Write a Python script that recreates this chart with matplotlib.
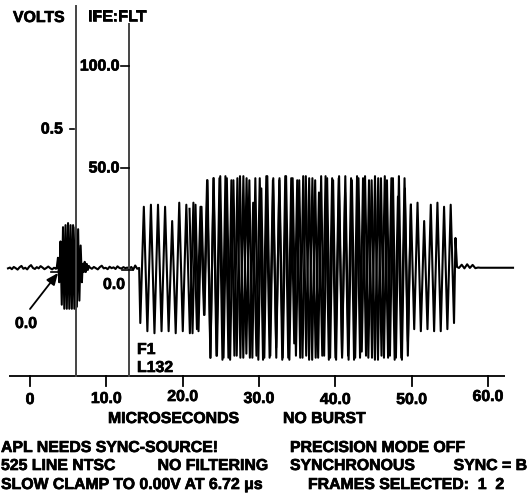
import numpy as np
import matplotlib
matplotlib.use('Agg')
import matplotlib.pyplot as plt
import matplotlib.patheffects as pe

plt.rcParams['font.family'] = ['Liberation Sans', 'DejaVu Sans']
plt.rcParams['font.weight'] = 'bold'

# ---------------- data ----------------
x_ticks = [0, 10, 20, 30, 40, 50, 60]
x_tick_labels = ['0', '10.0', '20.0', '30.0', '40.0', '50.0', '60.0']
ife_ticks = [100.0, 50.0]
ife_tick_labels = ['100.0', '50.0']
volt_ticks = [0.5]
volt_tick_labels = ['0.5']
volt_zero_ife = -1.0       # 0 V expressed in IFE units
ife_per_volt = 140.2

# trace of frame 1, segment by segment (start µs, end µs, values in IFE)
base_left_span = (-2.88, 3.40)
base_left = [0.8, 1.2, 0.4, 1.5, 0.9, 0.2, 1.3, 2.0, 0.6, 1.1, 0.3, 1.6, 2.4,
             1.0, 0.5, 1.4, 0.8, 1.9, 1.2, 0.4, 1.0, 1.7, 0.9, 0.3, 1.1, 0.6]
small_burst_span = (3.50, 6.80)
small_burst = [1, 6, -6, 14, -17, 21, -19, 22, -19, 23, -19, 22, -19, 22,
               -19, 21, -18, 20, -15, 12, -6]
burst_tail_span = (6.90, 7.70)
burst_tail = [3, -1, 4, -1, 3, 0, 2]
base_mid_span = (7.85, 14.30)
base_mid = [1.2, 0.6, 1.5, 0.9, 0.3, 1.4, 2.1, 0.8, 1.1, 0.4, 1.6, 0.9, 1.3,
            0.5, 1.8, 1.0, 0.7, 1.4, 0.9, 1.2, 0.6, 1.5, 0.2, 2.2, 0.6, 1.0]
pkt1_span = (14.45, 22.80)
pkt1 = [-26, 31, -30, 32, -31, 32, -30, 31, -30, 24, -31, 33, -30, 32, -31,
        33, -29, 31, -22]
pkt2_span = (23.20, 49.50)
pkt2 = [44, -43, 45, -42, 46, -43, 45, -44, 44, -42, 46, -43, 45, -43, 33,
        -42, 45, -44, 46, -43, 44, -38, 45, -43, 46, -44, 45, -42, 44, -43,
        46, -44, 45, -43, 38, -42, 46, -44, 45, -43, 45, -42, 46, -44, 44,
        -43, 45, -40, 46, -43, 44, -44, 45, -42, 46, -43, 45, -44, 36, -43,
        45, -42]
pkt3_span = (49.90, 55.55)
pkt3 = [32, -29, 33, -30, 24, -29, 32, -30, 33, -30, 31, -29, 32, -26]
spike_span = (55.74, 55.94)
spike = [15.7, 1.5]
base_right_span = (56.20, 58.70)
base_right = [1.0, 2.6, 0.8, 2.8, 1.0, 2.5, 0.9, 1.2]
flat_span = (59.00, 63.28)
flat = [1.1, 1.1]

# frame 2 (overlaid) over the main packet
f2_span = (20.90, 49.90)
f2 = [30, -31, 32, -30, 31, -22, 44, -43, 45, -42, 45, -44, 46, -43, 44, -42,
      45, -43, 46, -41, 44, -43, 45, -44, 40, -43, 46, -42, 45, -43, 44, -44,
      46, -43, 45, -36, 44, -43, 46, -42, 45, -44, 44, -43, 46, -42, 45, -43,
      44, -44, 46, -43, 38, -42, 45, -44, 46, -43, 45, -42, 44, -43, 46, -44,
      45, -43, 44, -42, 45, -43, 46, -44, 40, -35, 32]

# ---------------- figure ----------------
W, H = 529, 499
PX_PER_US = 7.633
X0_PX = 30.0
PX_PER_IFE = 2.04
Y0_PX = 270.0

fig = plt.figure(figsize=(W / 100, H / 100), dpi=100)
ax = fig.add_axes([0, 0, 1, 1])
ax.set_xlim(-X0_PX / PX_PER_US, (W - X0_PX) / PX_PER_US)
ax.set_ylim((Y0_PX - H) / PX_PER_IFE, Y0_PX / PX_PER_IFE)
ax.axis('off')

xT = ax.get_xaxis_transform()
yT = ax.get_yaxis_transform()
aT = ax.transAxes


def fx(p):
    return p / W


def fy(p):
    return 1 - p / H


FS = 11.4
TXT = dict(fontsize=FS, fontweight='bold', color='black',
           path_effects=[pe.withStroke(linewidth=0.5, foreground='black')])

# trace, frame 1
segs = [(base_left_span, base_left), (small_burst_span, small_burst),
        (burst_tail_span, burst_tail), (base_mid_span, base_mid),
        (pkt1_span, pkt1), (pkt2_span, pkt2), (pkt3_span, pkt3),
        (spike_span, spike), (base_right_span, base_right),
        (flat_span, flat)]
t1, v1 = [], []
for (a, b), vals in segs:
    t1.extend(np.linspace(a, b, len(vals)))
    v1.extend(vals)
ax.plot(t1, v1, color='black', lw=1.5)

# trace, frame 2
t2 = np.linspace(f2_span[0], f2_span[1], len(f2))
ax.plot(t2, f2, color='black', lw=1.5)

# x axis
ax.plot([fx(9), fx(505)], [fy(376), fy(376)], transform=aT, color='black',
        lw=1.3, solid_capstyle='butt')
lab_base = [404, 403, 401, 403, 404, 404, 401]
for t, lab, yb in zip(x_ticks, x_tick_labels, lab_base):
    ax.plot([t, t], [fy(376), fy(386)], transform=xT, color='black', lw=1.3)
    ax.text(t, fy(yb), lab, transform=xT, ha='center', va='baseline', **TXT)

# volts axis
ax.plot([fx(76), fx(76)], [fy(6), fy(376)], transform=aT, color='#444444',
        lw=1.4)
for vv, lab in zip(volt_ticks, volt_tick_labels):
    y = volt_zero_ife + vv * ife_per_volt
    ax.plot([fx(69.5), fx(73.5)], [y, y], transform=yT, color='black', lw=1.2)
    ax.text(fx(63), y, lab, transform=yT, ha='right', va='center', **TXT)
ax.plot([2.75, 3.67], [volt_zero_ife, volt_zero_ife], color='black', lw=1.2)

# IFE axis
ax.plot([fx(129), fx(129)], [fy(24), fy(376)], transform=aT, color='#444444',
        lw=1.4)
for vv, lab in zip(ife_ticks, ife_tick_labels):
    ax.plot([fx(121), fx(128.5)], [vv, vv], transform=yT, color='black',
            lw=1.2)
    ax.text(fx(119.5), vv, lab, transform=yT, ha='right', va='center', **TXT)
ax.plot([12.05, 13.5], [0, 0], color='black', lw=1.2)

# labels
fig.text(fx(13), fy(22), 'VOLTS', ha='left', va='baseline', **TXT)
fig.text(fx(88), fy(21), 'IFE:FLT', ha='left', va='baseline', **TXT)
fig.text(fx(103), fy(289), '0.0', ha='left', va='baseline', **TXT)
fig.text(fx(15), fy(328), '0.0', ha='left', va='baseline', **TXT)
fig.text(fx(137), fy(354), 'F1', ha='left', va='baseline', **TXT)
fig.text(fx(137), fy(372), 'L132', ha='left', va='baseline', **TXT)
ax.annotate('', xy=(fx(58), fy(273)), xytext=(fx(30), fy(309)),
            xycoords=aT, textcoords=aT,
            arrowprops=dict(arrowstyle='-|>,head_length=0.7,head_width=0.3',
                            color='black', lw=1.3, shrinkA=0, shrinkB=0))

fig.text(fx(108), fy(423), 'MICROSECONDS', ha='left', va='baseline', **TXT)
fig.text(fx(283), fy(423), 'NO BURST', ha='left', va='baseline', **TXT)

fig.text(fx(1), fy(452), 'APL NEEDS SYNC-SOURCE!', ha='left', va='baseline', **TXT)
fig.text(fx(1), fy(470), '525 LINE NTSC', ha='left', va='baseline', **TXT)
fig.text(fx(268), fy(470), 'NO FILTERING', ha='right', va='baseline', **TXT)
fig.text(fx(1), fy(489), 'SLOW CLAMP TO 0.00V AT 6.72 \u03bcs', ha='left',
         va='baseline', **TXT)
fig.text(fx(290), fy(452), 'PRECISION MODE OFF', ha='left', va='baseline', **TXT)
fig.text(fx(290), fy(470), 'SYNCHRONOUS', ha='left', va='baseline', **TXT)
fig.text(fx(527), fy(470), 'SYNC = B', ha='right', va='baseline', **TXT)
fig.text(fx(308), fy(489), 'FRAMES SELECTED:  1  2', ha='left', va='baseline',
         **TXT)

fig.savefig('out.png', dpi=100, facecolor='white')
